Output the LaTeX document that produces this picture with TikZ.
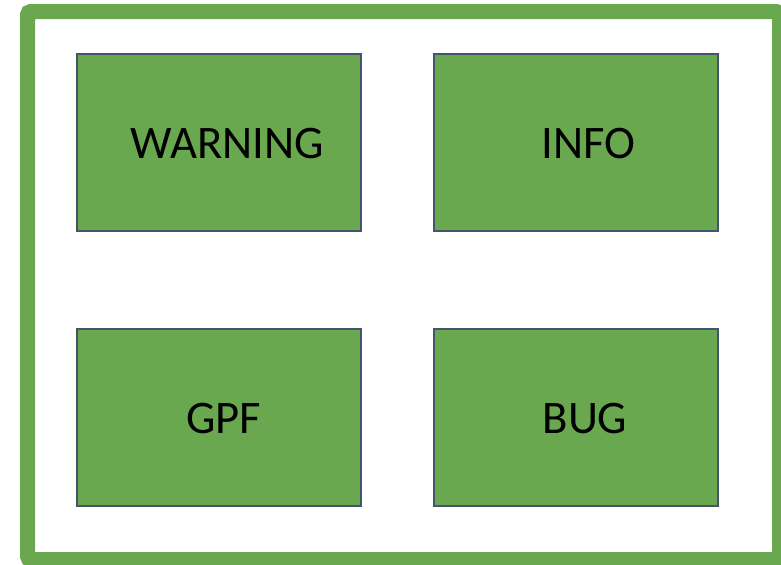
\documentclass[tikz,border=0pt]{standalone}
\usepackage{fontspec}
\setmainfont{Carlito}
\usepackage{tikz}
\usetikzlibrary{positioning}

\definecolor{logGreen}{HTML}{6AA84F}
\definecolor{logEdge}{HTML}{44546A}

\begin{document}
\begin{tikzpicture}[x=0.75pt, y=-0.75pt,
    frame/.style={draw=logGreen, line width=11.25pt, rounded corners=2.5pt},
    level/.style={draw=logEdge, fill=logGreen, line width=1.5pt, rectangle,
                  minimum width=213pt, minimum height=132.75pt, inner sep=0pt},
    levelname/.style={anchor=base, inner sep=0pt, font=\fontsize{35pt}{42pt}\selectfont}]
                \useasboundingbox (0,0) rectangle (781,564);
                % outer frame, runs off the right and bottom edge
                \draw[frame] (27.5,11.5) rectangle (779.5,559.5);
                % the four boxes
                \node[level] (warning) at (219,142.5) {};
                \node[level] (info) at (575.5,142.5) {};
                \node[level] (gpf) at (219,417.5) {};
                \node[level] (bug) at (575.5,417.5) {};
                \node[levelname] (warningtext) at (227.5,158.5) {WARNING};
                \node[levelname] (infotext) at (588.5,158.5) {INFO};
                \node[levelname] (gpftext) at (223.5,433.5) {GPF};
                \node[levelname] (bugtext) at (585,433.5) {BUG};
            \end{tikzpicture}
\end{document}
